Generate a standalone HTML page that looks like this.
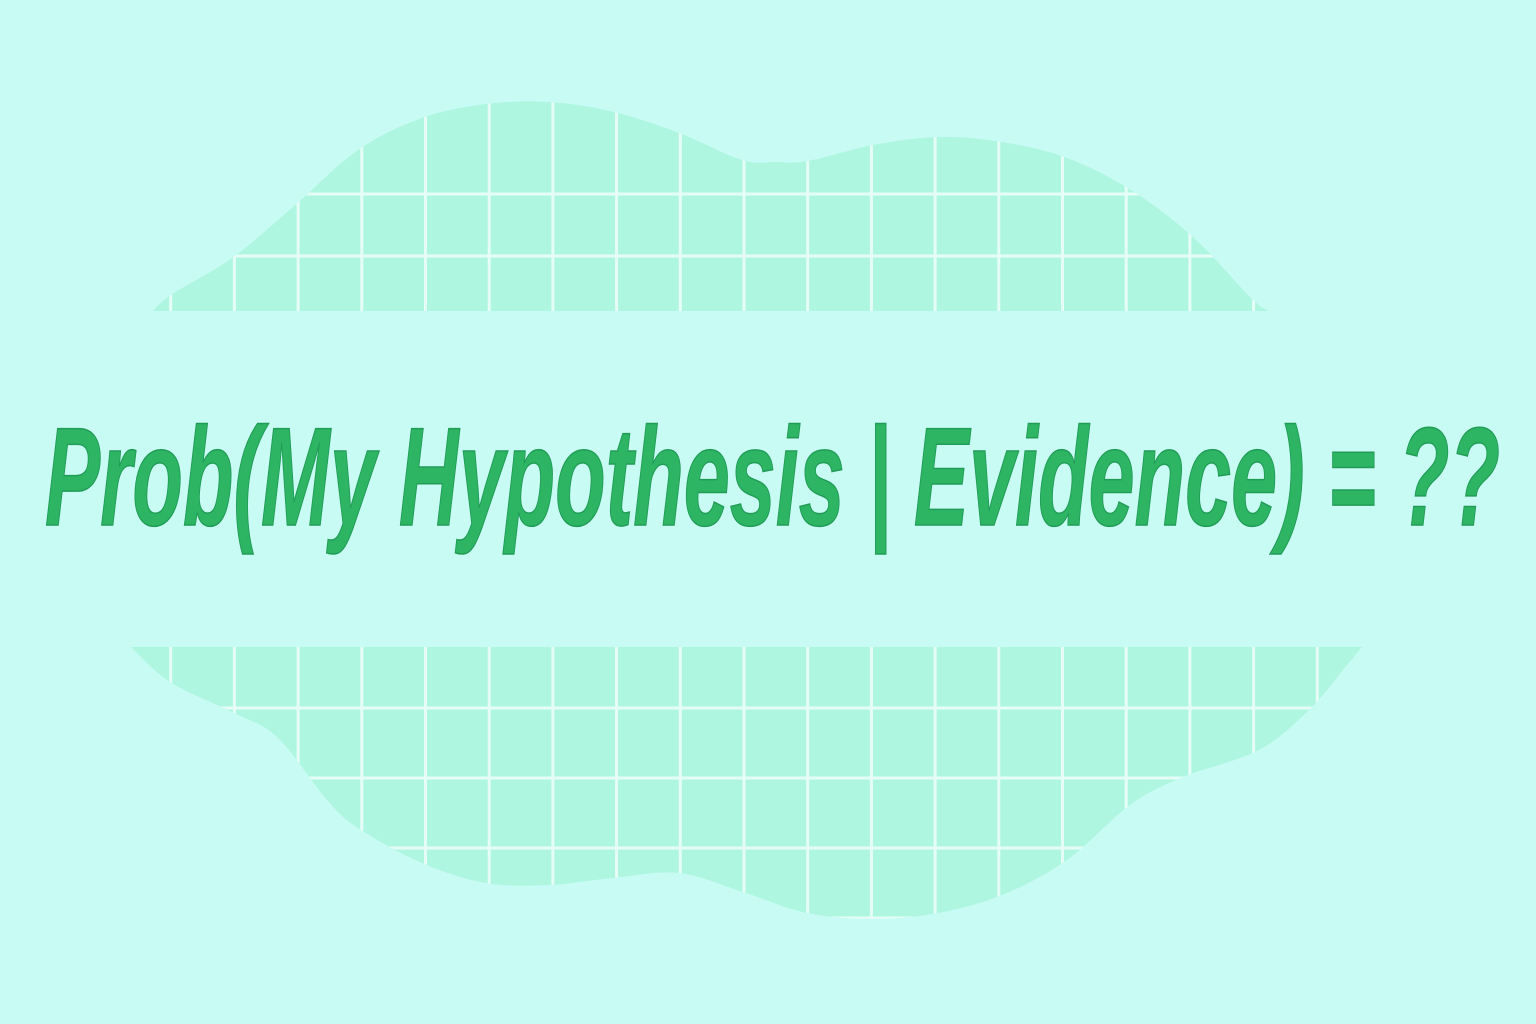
<!DOCTYPE html>
<html><head><meta charset="utf-8"><title>Prob(My Hypothesis | Evidence)</title>
<style>html,body{margin:0;padding:0;background:#c9fbf5;}svg{display:block;}</style></head>
<body>
<svg width="1536" height="1024" viewBox="0 0 1536 1024">
<defs>
<clipPath id="ct"><path id="ctp" d=""/></clipPath>
<clipPath id="cb"><path id="cbp" d=""/></clipPath>
</defs>
<rect width="1536" height="1024" fill="#c9fbf5"/>
<g clip-path="url(#ct)">
<rect x="100" y="90" width="1200" height="221" fill="#aef6df"/>
<g id="tg" stroke="#e6fdf7" stroke-width="3"></g>
</g>
<g clip-path="url(#cb)">
<rect x="100" y="647" width="1300" height="290" fill="#aef6df"/>
<g id="bg" stroke="#e6fdf7" stroke-width="3"></g>
</g>
<text x="45" y="525" textLength="1455" lengthAdjust="spacingAndGlyphs" font-family="Liberation Sans, sans-serif" font-size="140" font-style="italic" font-weight="bold" fill="#2db563" stroke="#219c57" stroke-width="1.5">Prob(My Hypothesis | Evidence) = ??</text>
</svg>
<script>
var NS="http://www.w3.org/2000/svg";
var topPts=[[153,311],[171,295],[232,258],[293,207],[358,150],[422,118],[486,104],[549,102],[614,112],[679,133],[742,160],[776,162],[808,161],[873,145],[938,137],[1002,142],[1067,158],[1131,190],[1193,237],[1250,297],[1268,311]];
var botPts=[[131,647],[170,682],[232,712],[277,737],[327,800],[358,828],[422,863],[486,883],[549,885],[613,878],[679,873],[743,892],[807,913],[874,919],[938,913],[1002,895],[1067,860],[1130,805],[1183,777],[1259,750],[1309,710],[1343,670],[1362,647]];
function smooth(p){var d="M"+p[0][0]+","+p[0][1];for(var i=0;i<p.length-1;i++){var a=p[Math.max(i-1,0)],b=p[i],c=p[i+1],e=p[Math.min(i+2,p.length-1)];
d+=" C"+(b[0]+(c[0]-a[0])/6)+","+(b[1]+(c[1]-a[1])/6)+" "+(c[0]-(e[0]-b[0])/6)+","+(c[1]-(e[1]-b[1])/6)+" "+c[0]+","+c[1];}return d+" Z";}
document.getElementById("ctp").setAttribute("d",smooth(topPts));
document.getElementById("cbp").setAttribute("d",smooth(botPts));
function ln(g,x1,y1,x2,y2){var l=document.createElementNS(NS,"line");l.setAttribute("x1",x1);l.setAttribute("y1",y1);l.setAttribute("x2",x2);l.setAttribute("y2",y2);


g.appendChild(l);}
var tg=document.getElementById("tg"),bg=document.getElementById("bg");
for(var i=0;i<20;i++){var x=107+63.7*i;ln(tg,x,80,x,320);ln(bg,x,640,x,940);}
[194,256].forEach(function(y){ln(tg,100,y,1300,y);});
[708,778,848,918].forEach(function(y){ln(bg,100,y,1400,y);});
</script>
</body></html>
